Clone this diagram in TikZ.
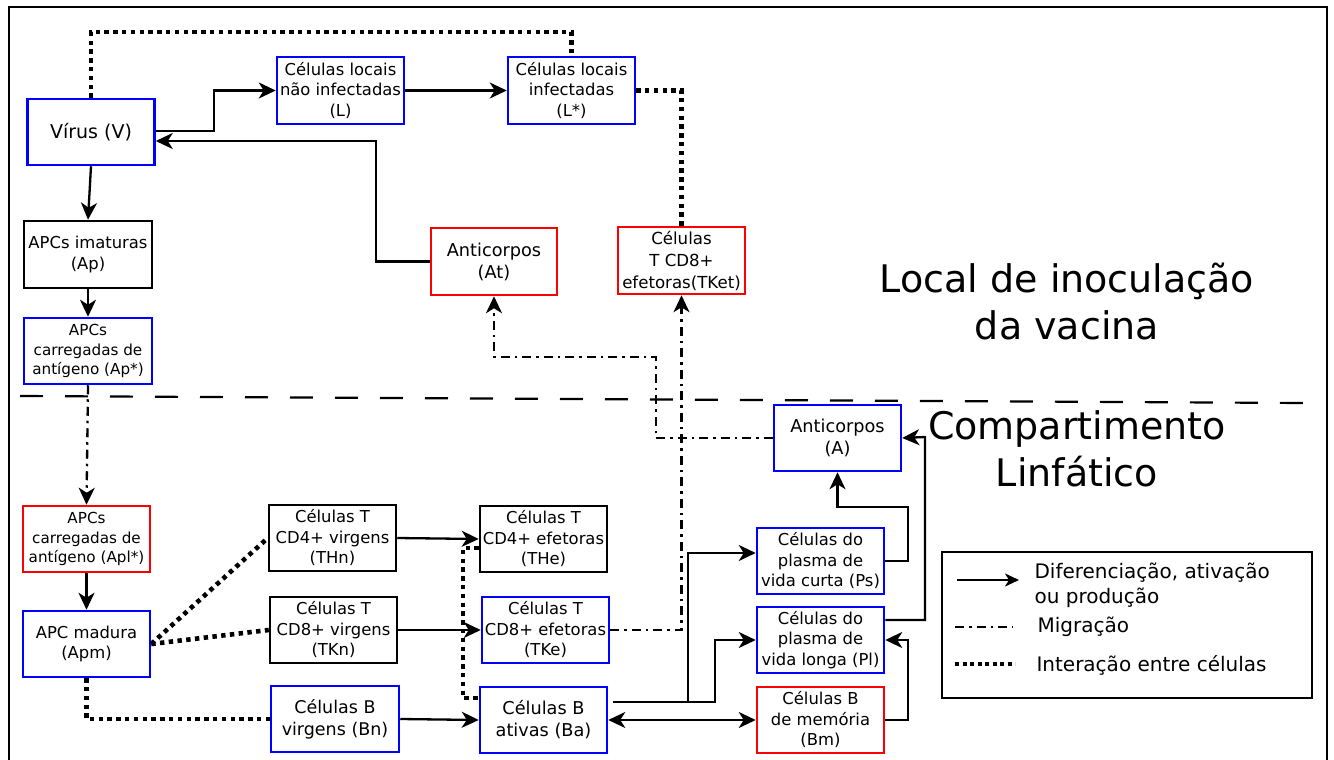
\documentclass[tikz,border=0pt]{standalone}
\usepackage{fontspec}
\setmainfont{DejaVu Sans}
\usetikzlibrary{arrows.meta}
\definecolor{cblue}{RGB}{0,0,255}
\definecolor{cred}{RGB}{255,0,0}
\begin{document}
\begin{tikzpicture}[x=1pt,y=-1pt,
  box/.style={draw, line width=2.5pt, rectangle, minimum width=127pt, minimum height=66pt, inner sep=0pt, align=center, font=\fontsize{16.4pt}{20.5pt}\selectfont},
  bbox/.style={box, draw=cblue},
  rbox/.style={box, draw=cred},
  kbox/.style={box, draw=black},
  tip/.tip={Stealth[length=17pt,width=16pt,inset=5pt]},
  arr/.style={line width=2.3pt, -tip},
  arrtwo/.style={line width=2.3pt, tip-tip},
  mig/.style={line width=2.3pt, dash pattern=on 9pt off 5pt on 2.5pt off 5pt},
  migarr/.style={mig, -tip},
  inter/.style={line width=4.6pt, dash pattern=on 4.4pt off 4.4pt},
  ttl/.style={align=center, font=\fontsize{38pt}{47pt}\selectfont},
  lgd/.style={anchor=west, align=left, font=\fontsize{20pt}{25pt}\selectfont}
]
\useasboundingbox (0,0) rectangle (1334,760);
\fill[white] (0,0) rectangle (1334,760);
% frame
\draw[line width=2.2pt] (9,775) -- (9,7) -- (1327,7) -- (1327,775);

% upper compartment nodes
\node[bbox, font=\fontsize{19pt}{23pt}\selectfont] (V) at (91,132) {Vírus (V)};
\node[bbox, minimum height=67pt] (L) at (340.5,90.5) {Células locais\\não infectadas\\(L)};
\node[bbox, minimum height=67pt] (Ls) at (571.5,90.5) {Células locais\\infectadas\\(L*)};
\node[kbox, minimum width=128pt, minimum height=67pt] (Ap) at (88,254.5) {APCs imaturas\\(Ap)};
\node[bbox, minimum width=128pt, font=\fontsize{15.2pt}{19.5pt}\selectfont] (Aps) at (88,351) {APCs\\carregadas de\\antígeno (Ap*)};
\node[rbox, minimum width=126pt, minimum height=67pt, font=\fontsize{17.7pt}{22pt}\selectfont] (At) at (494,261.5) {Anticorpos\\(At)};
\node[rbox, minimum height=67pt, font=\fontsize{16.6pt}{22pt}\selectfont] (TKet) at (681.5,260.5) {Células\\T CD8+\\efetoras(TKet)};
\node[ttl] (T1) at (1067,302) {Local de inoculação\\da vacina};

% divider
\draw[line width=2.2pt, dash pattern=on 23pt off 22pt] (20,396) -- (1305,403);

% lymphatic compartment nodes
\node[bbox, font=\fontsize{17.7pt}{22pt}\selectfont] (A) at (837.5,438) {Anticorpos\\(A)};
\node[ttl] (T2) at (1077,449) {Compartimento\\Linfático};
\node[rbox, font=\fontsize{15.2pt}{19.5pt}\selectfont] (Apl) at (86.5,539) {APCs\\carregadas de\\antígeno (Apl*)};
\node[bbox] (Apm) at (86.5,644) {APC madura\\(Apm)};
\node[kbox] (THn) at (332.5,538) {Células T\\CD4+ virgens\\(THn)};
\node[kbox] (TKn) at (333.5,630) {Células T\\CD8+ virgens\\(TKn)};
\node[bbox, minimum width=128pt, font=\fontsize{17.5pt}{22pt}\selectfont] (Bn) at (335,719) {Células B\\virgens (Bn)};
\node[kbox] (THe) at (543.5,539) {Células T\\CD4+ efetoras\\(THe)};
\node[bbox] (TKe) at (545.5,630) {Células T\\CD8+ efetoras\\(TKe)};
\node[bbox, font=\fontsize{17.7pt}{22pt}\selectfont] (Ba) at (543.5,720) {Células B\\ativas (Ba)};
\node[bbox] (Ps) at (820.5,561) {Células do\\plasma de\\vida curta (Ps)};
\node[bbox] (Pl) at (820.5,640) {Células do\\plasma de\\vida longa (Pl)};
\node[rbox] (Bm) at (820.5,720) {Células B\\de memória\\(Bm)};

% upper connectors
\draw[arr] (V.east |- 0,131) -- (214,131) |- (L.west);
\draw[arr] (L.east) -- (Ls.west);
\draw[arr] (At.west) -| (376,141) -- (V.east |- 0,141);
\draw[arr] (V.south) -- (Ap.north);
\draw[arr] (Ap.south) -- (Aps.north);
\draw[inter] (V.north) -- (91,32) -| (Ls.north);
\draw[inter] (Ls.east) -| (TKet.north);
\draw[migarr] (A.west) -| (656,357) -| (At.south);
\draw[migarr] (TKe.east) -| (TKet.south);
\draw[migarr] (Aps.south) -- (Apl.north);

% lower connectors
\draw[arr] (Apl.south) -- (Apm.north);
\draw[inter] (Apm.east) -- (THn.west);
\draw[inter] (Apm.east) -- (TKn.west);
\draw[inter] (Apm.south) |- (Bn.west);
\draw[arr] (THn.east) -- (THe.west);
\draw[arr] (TKn.east) -- (TKe.west);
\draw[arr] (Bn.east) -- (Ba.west);
\draw[inter] (THe.west |- 0,548) -| (463,698) -- (Ba.west |- 0,698);
\draw[arr] ([xshift=5pt]Ba.east |- 0,702) -- (688,702) |- (Ps.west |- 0,553);
\draw[arr] ([xshift=5pt]Ba.east |- 0,702) -- (715,702) |- (Pl.west);
\draw[arrtwo] (Ba.east) -- (Bm.west);
\draw[arr] (Ps.east) -| (908,507) -| (A.south);
\draw[arr] (Pl.east |- 0,620) -| (925,437) -- (A.east);
\draw[arr] (Bm.east) -| (908,640) -- (Pl.east);

% legend
\node[draw, line width=2.2pt, minimum width=370pt, minimum height=146pt, inner sep=0pt] (legend) at (1127,625) {};
\draw[line width=2.2pt, -{Stealth[length=14pt,width=13pt,inset=4pt]}] (957,580) -- (1019,580);
\node[lgd] (l1) at (1031,585.5) {Diferenciação, ativação\\ou produção};
\draw[mig] (955,627) -- (1013,627);
\node[lgd] (l2) at (1034,627) {Migração};
\draw[line width=4.2pt, dash pattern=on 4pt off 3.5pt] (955,664) -- (1015,664);
\node[lgd] (l3) at (1033,665) {Interação entre células};
\end{tikzpicture}
\end{document}
